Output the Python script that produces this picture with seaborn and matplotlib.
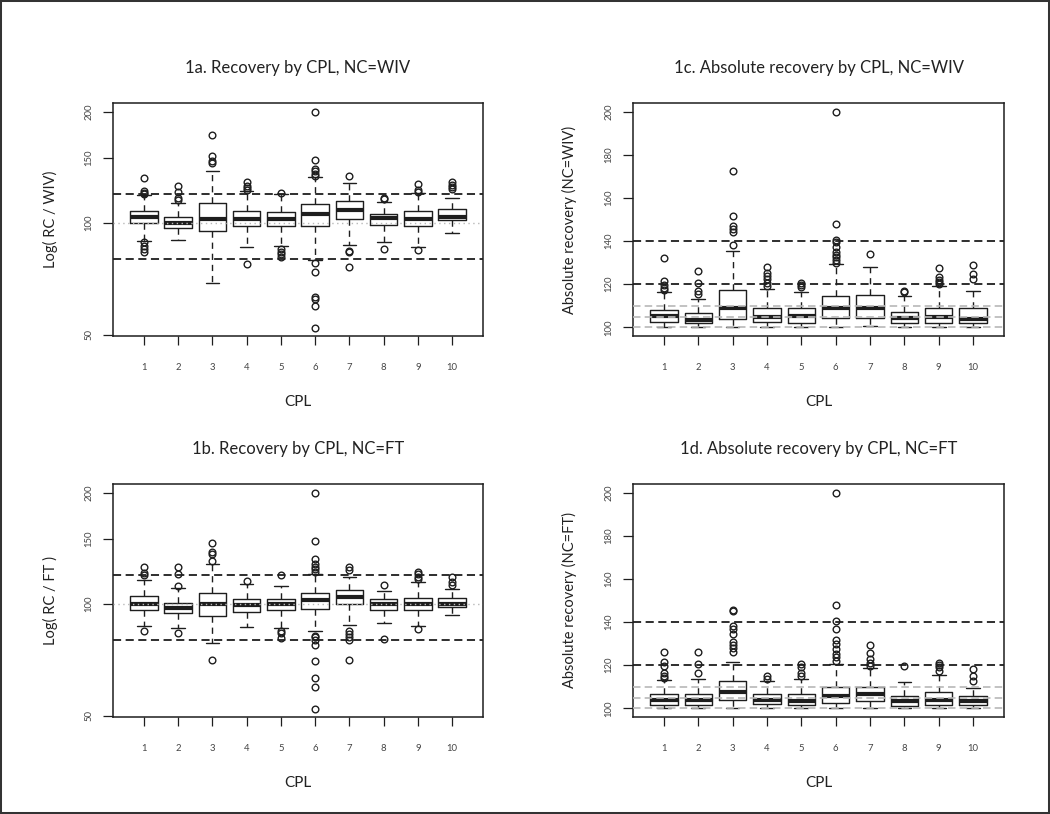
import matplotlib
matplotlib.use("Agg")
import matplotlib.pyplot as plt
import seaborn as sns
from matplotlib.ticker import FixedLocator, FixedFormatter, NullLocator
from matplotlib.patches import Rectangle

# ---------------- data ----------------
CPL = [1, 2, 3, 4, 5, 6, 7, 8, 9, 10]
CPL_LABELS = ["1", "2", "3", "4", "5", "6", "7", "8", "9", "10"]

# 1a. Recovery by CPL, NC=WIV (log scale)
A_WHISLO = [89.5, 90.1, 69.0, 86.4, 87.0, 79.5, 87.2, 89.2, 86.3, 94.1]
A_Q1 = [100.0, 96.9, 95.1, 98.1, 98.0, 98.3, 102.7, 99.0, 98.3, 101.7]
A_MED = [104.2, 100.0, 102.7, 102.7, 102.7, 106.0, 108.5, 103.0, 102.5, 103.8]
A_Q3 = [107.6, 104.2, 113.0, 108.0, 107.0, 112.6, 114.7, 105.8, 107.8, 109.4]
A_WHISHI = [118.9, 113.3, 138.0, 122.0, 119.6, 133.0, 128.0, 113.8, 120.4, 116.7]
A_FLIERS = [
    [132, 122, 120.5, 119.5, 89, 87, 85, 83.8],
    [126, 121, 117, 115.7],
    [173, 152, 147, 145],
    [129, 126, 124.5, 123, 77.6],
    [120.3, 85, 83.8, 82.6, 81],
    [200, 148, 140, 138, 136, 134, 77.9, 74, 63.2, 62.5, 59.8, 52],
    [134, 84.3, 83.6, 76],
    [116.7, 116, 85.4],
    [127.9, 122.6, 121, 84.5],
    [129.5, 126.8, 125, 123.7],
]

# 1b. Recovery by CPL, NC=FT (log scale)
B_WHISLO = [87.2, 86.4, 78.5, 86.6, 86.4, 84.6, 87.9, 89.2, 87.3, 93.2]
B_Q1 = [96.7, 94.5, 92.8, 95.5, 96.3, 97.3, 100.2, 96.3, 96.7, 98.1]
B_MED = [100.0, 97.7, 100.0, 99.2, 100.0, 102.7, 104.7, 100.0, 100.0, 100.4]
B_Q3 = [104.9, 101.0, 107.1, 103.2, 103.0, 107.1, 108.9, 103.0, 104.0, 103.6]
B_WHISHI = [116.2, 110.3, 128.7, 113.1, 111.7, 120.4, 118.6, 108.5, 114.5, 109.6]
B_FLIERS = [
    [126, 121, 119.6, 84.8],
    [126, 120.4, 112.1, 83.8],
    [145.8, 138.7, 136.7, 130.8, 70.9],
    [115.2],
    [119.9, 84.6, 83.4, 81.2],
    [200, 148, 132, 128, 126, 124.2, 122, 82.2, 81.3, 79.8, 77.4, 70.3, 63.1, 59.7, 52.1],
    [126, 123.7, 84.5, 83.2, 81.5, 79.8, 70.8],
    [112.4, 80.5],
    [122.4, 120.4, 118.6, 116.7, 85.7],
    [118.1, 114.5, 112.6],
]

# 1c. Absolute recovery by CPL, NC=WIV
C_WHISLO = [100.0, 100.0, 100.0, 100.0, 100.0, 100.0, 100.5, 100.0, 100.0, 100.0]
C_Q1 = [102.6, 101.9, 104.0, 102.5, 102.2, 104.5, 104.2, 102.2, 101.9, 101.9]
C_MED = [105.1, 103.6, 109.0, 104.9, 105.1, 108.8, 109.0, 104.2, 104.6, 103.7]
C_Q3 = [108.2, 106.8, 117.5, 108.8, 108.8, 114.7, 115.0, 107.3, 108.8, 109.1]
C_WHISHI = [116.4, 113.3, 135.2, 117.9, 116.2, 129.4, 127.8, 114.7, 119.0, 116.7]
C_FLIERS = [
    [132.1, 121.3, 119.5, 118.4, 117.3],
    [126, 120.6, 116.8, 115.3],
    [172.6, 151.8, 146.8, 145.4, 144.2, 138],
    [128.1, 125.3, 123.8, 122.3, 120.7, 119.2],
    [120.6, 119.6, 118.9],
    [200, 148.1, 140.5, 139.6, 137.4, 134.9, 133.7, 132.5, 131.2, 130],
    [134.2],
    [117, 116.4],
    [127.4, 123.2, 122.1, 121, 120.2],
    [128.9, 124.7, 122.4],
]

# 1d. Absolute recovery by CPL, NC=FT
D_WHISLO = [100.0, 100.0, 100.0, 100.3, 100.0, 100.0, 100.3, 100.0, 100.0, 100.0]
D_Q1 = [101.5, 101.5, 104.0, 102.2, 101.5, 102.5, 103.3, 101.2, 101.5, 101.4]
D_MED = [104.0, 103.9, 107.4, 103.9, 103.3, 105.9, 106.7, 103.3, 103.7, 103.3]
D_Q3 = [106.8, 106.5, 112.8, 106.5, 106.5, 109.9, 109.8, 105.7, 107.7, 105.7]
D_WHISHI = [113.2, 113.6, 121.7, 112.8, 113.6, 120.6, 118.6, 112.4, 115.5, 109.3]
D_FLIERS = [
    [125.9, 121.4, 119.8, 116.4, 115.2, 114.2],
    [125.9, 120.6, 116.4],
    [145.8, 145, 138.1, 137, 134.7, 130.8, 129.4, 128, 126.3],
    [115.2, 113.8],
    [120.6, 119.2, 116.4, 115.2],
    [200, 148, 140.4, 136.7, 131.9, 129.7, 127.6, 125.4, 123.7, 122.1],
    [129.4, 125.5, 123.1, 121, 119.8],
    [119.5],
    [121.2, 120.1, 119, 117.3],
    [118.3, 114.9, 112.7],
]

LOG_TICKS = [50, 100, 150, 200]
ABS_TICKS = [100, 120, 140, 160, 180, 200]
LOG_BLACK_LINES = [80, 120]
LOG_GREY_LINES = [100]
ABS_BLACK_LINES = [120, 140]
ABS_GREY_LINES = [100, 105, 110]

# ---------------- style ----------------
sns.set_theme(style="ticks")
plt.rcParams["font.family"] = ["Lato", "DejaVu Sans"]
INK = "#1e1e1e"
GREY = "#b8b8b8"

W, H = 1050, 814
fig = plt.figure(figsize=(W / 100, H / 100), dpi=100)
fig.patch.set_facecolor("white")


def axes_px(left, top, right, bottom):
    return fig.add_axes([left / W, 1 - bottom / H, (right - left) / W, (bottom - top) / H])


def panel(ax, whislo, q1, med, q3, whishi, fliers, log, title, ylabel):
    stats = [dict(whislo=a, q1=b, med=c, q3=d, whishi=e, fliers=f)
             for a, b, c, d, e, f in zip(whislo, q1, med, q3, whishi, fliers)]
    if log:
        ax.set_yscale("log")
    ax.bxp(stats, positions=CPL, widths=0.8, capwidths=0.4, showfliers=True,
           boxprops=dict(color=INK, lw=1.0),
           medianprops=dict(color=INK, lw=3.0),
           whiskerprops=dict(color=INK, lw=1.0, linestyle=(0, (4.5, 3.5))),
           capprops=dict(color=INK, lw=1.0),
           flierprops=dict(marker="o", markersize=4.8, markerfacecolor="none",
                           markeredgecolor=INK, markeredgewidth=1.0, linestyle="none"))
    if log:
        for v in LOG_GREY_LINES:
            ax.axhline(v, color=GREY, lw=1.0, linestyle=(0, (1, 2.5)), zorder=5)
        for v in LOG_BLACK_LINES:
            ax.axhline(v, color=INK, lw=1.3, linestyle=(0, (4.5, 2.5)), zorder=6)
        ax.set_ylim(49.6, 211)
        ticks = LOG_TICKS
    else:
        for v in ABS_GREY_LINES:
            ax.axhline(v, color=GREY, lw=1.2, linestyle=(0, (4.5, 2.5)), zorder=5)
        for v in ABS_BLACK_LINES:
            ax.axhline(v, color=INK, lw=1.3, linestyle=(0, (4.5, 2.5)), zorder=6)
        ax.set_ylim(96, 204)
        ticks = ABS_TICKS
    ax.yaxis.set_major_locator(FixedLocator(ticks))
    ax.yaxis.set_major_formatter(FixedFormatter([str(t) for t in ticks]))
    ax.yaxis.set_minor_locator(NullLocator())
    ax.set_xlim(0.1, 10.9)
    ax.xaxis.set_major_locator(FixedLocator(CPL))
    ax.xaxis.set_major_formatter(FixedFormatter(CPL_LABELS))
    ax.tick_params(axis="x", direction="out", length=6.5, width=0.9, color=INK,
                   pad=13, labelsize=6.8, labelcolor="#444444")
    ax.tick_params(axis="y", direction="out", length=7, width=0.9, color=INK,
                   pad=7, labelsize=6.8, labelcolor="#444444")
    for lab in ax.get_yticklabels():
        lab.set_rotation(90)
        lab.set_va("center")
    for s in ax.spines.values():
        s.set_visible(True)
        s.set_color(INK)
        s.set_linewidth(1.1)
    ax.set_facecolor("white")
    ax.grid(False)
    hpx = 233.0
    wpx = 370.0
    ax.text(0.5, 1 + 35 / hpx, title, transform=ax.transAxes, ha="center", va="center",
            fontsize=12, color="#222222")
    ax.text(0.5, -66 / hpx, "CPL", transform=ax.transAxes, ha="center", va="center",
            fontsize=11, color="#222222")
    ax.text(-63 / wpx, 0.5, ylabel, transform=ax.transAxes, ha="center", va="center",
            rotation=90, fontsize=10.5, color="#222222")


ax_a = axes_px(113, 103, 483, 336)
ax_c = axes_px(633, 103, 1004, 336)
ax_b = axes_px(113, 484, 483, 717)
ax_d = axes_px(633, 484, 1004, 717)

panel(ax_a, A_WHISLO, A_Q1, A_MED, A_Q3, A_WHISHI, A_FLIERS, True,
      "1a. Recovery by CPL, NC=WIV", "Log( RC / WIV)")
panel(ax_c, C_WHISLO, C_Q1, C_MED, C_Q3, C_WHISHI, C_FLIERS, False,
      "1c. Absolute recovery by CPL, NC=WIV", "Absolute recovery (NC=WIV)")
panel(ax_b, B_WHISLO, B_Q1, B_MED, B_Q3, B_WHISHI, B_FLIERS, True,
      "1b. Recovery by CPL, NC=FT", "Log( RC / FT )")
panel(ax_d, D_WHISLO, D_Q1, D_MED, D_Q3, D_WHISHI, D_FLIERS, False,
      "1d. Absolute recovery by CPL, NC=FT", "Absolute recovery (NC=FT)")

fig.add_artist(Rectangle((0, 0), 1, 1, transform=fig.transFigure, fill=False,
                         edgecolor="#333333", lw=2.9))

fig.savefig("out.png", dpi=100, facecolor="white")
